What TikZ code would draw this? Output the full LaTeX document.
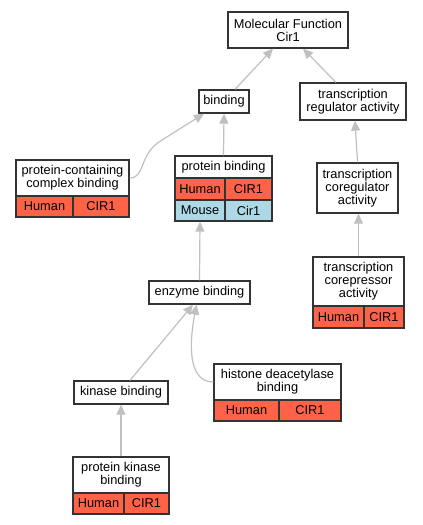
\documentclass[tikz,border=0pt]{standalone}
\usepackage{fontspec}
\setmainfont{Liberation Sans}
\usetikzlibrary{arrows.meta}
\definecolor{tomatoc}{HTML}{FF6347}
\definecolor{lblue}{HTML}{ADD8E6}
\definecolor{edgec}{HTML}{C0C0C0}
\definecolor{bordc}{HTML}{333333}
\begin{document}
\begin{tikzpicture}[x=1pt,y=-1pt,
  box/.style={draw=bordc, line width=1.3pt, fill=white, inner sep=0pt, align=center,
    font=\fontsize{12.8}{13}\selectfont},
  hum/.style={box, fill=tomatoc},
  mou/.style={box, fill=lblue},
  edge/.style={draw=edgec, line width=1.2pt, -{Triangle[length=10pt,width=9pt]}}]
\useasboundingbox (0,0) rectangle (423,525);
% nodes
\node[box, minimum width=120pt, minimum height=36pt] (mf) at (288,30) {Molecular Function\\Cir1};
\node[box, minimum width=50pt, minimum height=23pt] (bind) at (224,101.5) {binding};
\node[box, minimum width=106pt, minimum height=37pt] (tra) at (353,101.5) {transcription\\regulator activity};
% protein-containing complex binding
\node[box, minimum width=113pt, minimum height=36pt] (pccb) at (72.5,178) {protein-containing\\complex binding};
\node[hum, minimum width=57pt, minimum height=21pt] (pccbh) at (44.5,206.5) {Human};
\node[hum, minimum width=56pt, minimum height=21pt] (pccbc) at (101,206.5) {CIR1};
% protein binding
\node[box, minimum width=97pt, minimum height=22pt] (pb) at (223.5,167) {protein binding};
\node[hum, minimum width=50pt, minimum height=22pt] (pbh) at (200,189) {Human};
\node[hum, minimum width=47pt, minimum height=22pt] (pbc) at (248.5,189) {CIR1};
\node[mou, minimum width=50pt, minimum height=21pt] (pbm) at (200,210.5) {Mouse};
\node[mou, minimum width=47pt, minimum height=21pt] (pbmc) at (248.5,210.5) {Cir1};
% transcription coregulator activity
\node[box, minimum width=81pt, minimum height=50pt] (tcg) at (357.5,188) {transcription\\coregulator\\activity};
% transcription corepressor activity
\node[box, minimum width=91pt, minimum height=49pt] (tcr) at (358.5,281.5) {transcription\\corepressor\\activity};
\node[hum, minimum width=51pt, minimum height=22pt] (tcrh) at (338.5,317) {Human};
\node[hum, minimum width=40pt, minimum height=22pt] (tcrc) at (384,317) {CIR1};
% enzyme binding
\node[box, minimum width=101pt, minimum height=23pt] (enz) at (199.5,292.5) {enzyme binding};
% kinase binding
\node[box, minimum width=94pt, minimum height=23pt] (kin) at (121,392.5) {kinase binding};
% histone deacetylase binding
\node[box, minimum width=127pt, minimum height=36pt] (hda) at (277.5,382) {histone deacetylase\\binding};
\node[hum, minimum width=65pt, minimum height=21pt] (hdah) at (246.5,410.5) {Human};
\node[hum, minimum width=62pt, minimum height=21pt] (hdac) at (310,410.5) {CIR1};
% protein kinase binding
\node[box, minimum width=96pt, minimum height=36pt] (pkb) at (121,475) {protein kinase\\binding};
\node[hum, minimum width=51pt, minimum height=21pt] (pkbh) at (98.5,503.5) {Human};
\node[hum, minimum width=45pt, minimum height=21pt] (pkbc) at (146.5,503.5) {CIR1};
% edges
\draw[edge] ([xshift=11pt]bind.north) -- ([xshift=-15pt]mf.south);
\draw[edge] ([xshift=-17pt]tra.north) -- ([xshift=15pt]mf.south);
\draw[edge] (pccb.east) .. controls (146,178) and (138,154) .. (162,140) -- ([xshift=-20pt]bind.south);
\draw[edge] (pb.north) -- (bind.south);
\draw[edge] (tcg.north) -- ([xshift=2pt]tra.south);
\draw[edge] (tcr.north) -- ([xshift=1pt]tcg.south);
\draw[edge] (enz.north) -- (pbm.south);
\draw[edge] ([xshift=9pt]kin.north) -- ([xshift=-6.5pt]enz.south);
\draw[edge] (hda.west) .. controls (190,382) and (188,350) .. ([xshift=-3pt]enz.south);
\draw[edge] (pkb.north) -- (kin.south);
\end{tikzpicture}
\end{document}
